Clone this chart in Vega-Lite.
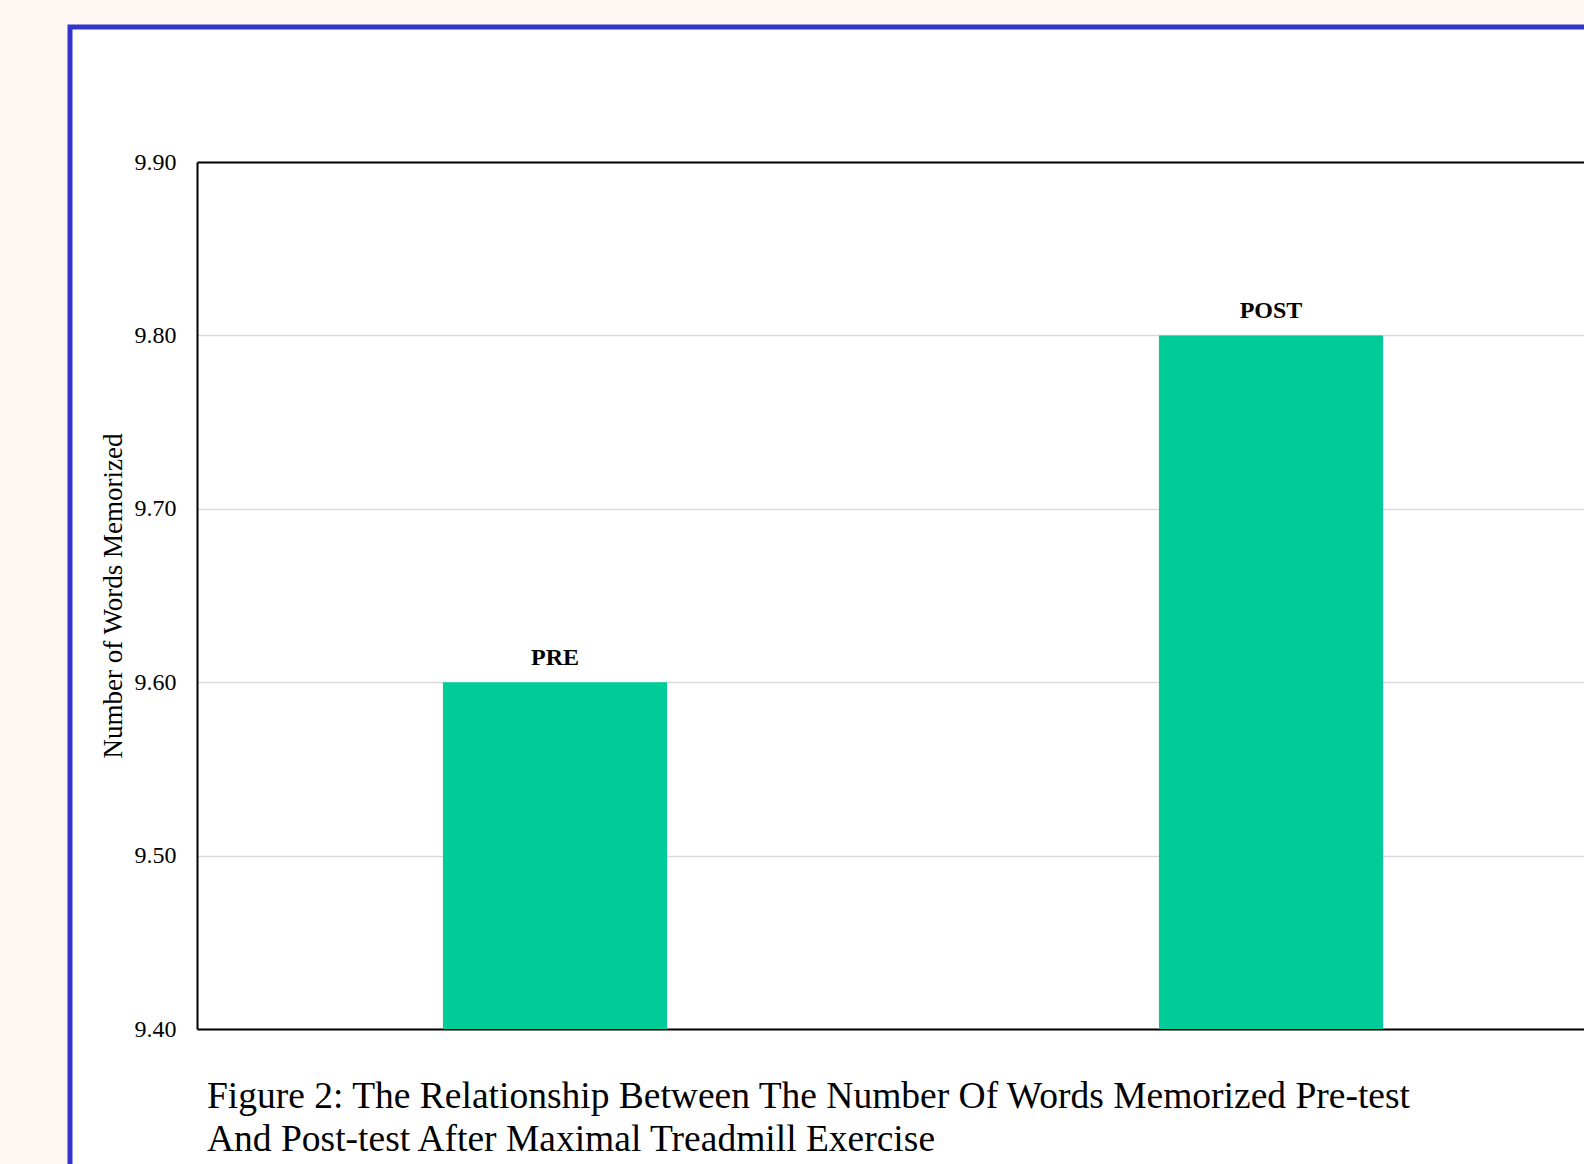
{
  "$schema": "https://vega.github.io/schema/vega-lite/v6.json",
  "autosize": {"type": "none"},
  "padding": {"left": 70, "top": 27, "right": -4, "bottom": -4},
  "width": 1518,
  "height": 1141,
  "background": "#FEF6F2",
  "view": {"fill": "white", "stroke": "#3434CC", "strokeWidth": 5},
  "data": {"values": [
    {"test": "PRE", "words": 9.6},
    {"test": "POST", "words": 9.8}
  ]},
  "title": {
    "text": ["Figure 2: The Relationship Between The Number Of Words Memorized Pre-test", "And Post-test After Maximal Treadmill Exercise"],
    "orient": "bottom",
    "anchor": "start",
    "frame": "group",
    "offset": -60,
    "dx": 137,
    "baseline": "alphabetic",
    "font": "Liberation Serif",
    "fontSize": 37.5,
    "fontWeight": "normal",
    "lineHeight": 43,
    "color": "black"
  },
  "encoding": {
    "x": {
      "field": "test",
      "type": "nominal",
      "sort": null,
      "scale": {"domain": ["PRE", "POST"], "range": [127, 1559], "paddingInner": 0.687, "paddingOuter": 0.3435},
      "axis": {"orient": "bottom", "offset": -139, "domainColor": "black", "domainWidth": 2, "labels": false, "ticks": false, "title": null, "grid": false}
    },
    "y": {
      "field": "words",
      "type": "quantitative",
      "scale": {"domain": [9.4, 9.9], "range": [1002, 135], "zero": false, "nice": false},
      "axis": {
        "orient": "left",
        "offset": -127,
        "values": [9.4, 9.5, 9.6, 9.7, 9.8, 9.9],
        "format": ".2f",
        "domainColor": "black",
        "domainWidth": 2,
        "ticks": false,
        "tickSize": 0,
        "labelPadding": 21,
        "labelFont": "Liberation Serif",
        "labelFontSize": 24,
        "labelColor": "black",
        "grid": true,
        "gridColor": {"condition": {"test": "datum.value > 9.89", "value": "black"}, "value": "#D9D9D9"},
        "gridWidth": {"condition": {"test": "datum.value > 9.89", "value": 2}, "value": 1.3},
        "title": "Number of Words Memorized",
        "titleFont": "Liberation Serif",
        "titleFontSize": 27,
        "titleFontWeight": "normal",
        "titleColor": "black",
        "titlePadding": 7
      }
    }
  },
  "layer": [
    {
      "mark": {"type": "bar", "color": "#00CC99"},
      "encoding": {"y2": {"datum": 9.4}}
    },
    {
      "mark": {"type": "text", "dy": -17, "baseline": "alphabetic", "align": "center", "font": "Liberation Serif", "fontSize": 24, "fontWeight": "bold", "color": "black"},
      "encoding": {"text": {"field": "test"}}
    }
  ]
}
